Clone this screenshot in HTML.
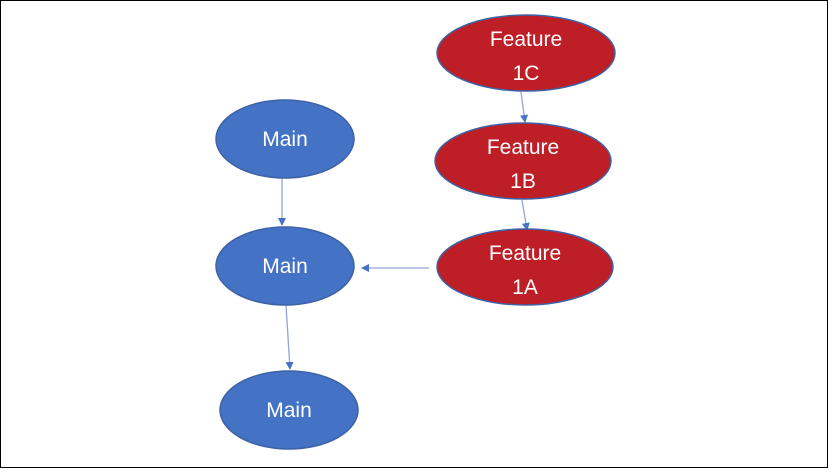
<!DOCTYPE html>
<html><head><style>
body{margin:0;width:828px;height:468px;overflow:hidden;background:#fff}
</style></head><body>
<svg width="828" height="468" xmlns="http://www.w3.org/2000/svg" font-family="Liberation Sans, sans-serif">
<rect x="0.5" y="0.5" width="827" height="467" fill="#fff" stroke="#000" stroke-width="1"/>
<defs><marker id="a" markerWidth="8" markerHeight="8" refX="7" refY="4" orient="auto" markerUnits="userSpaceOnUse"><path d="M0,0 L8,4 L0,8 Z" fill="#4472c4"/></marker></defs>
<g stroke="#8fa6d4" stroke-width="1.3" fill="none" marker-end="url(#a)">
<line x1="521" y1="92" x2="525" y2="122"/>
<line x1="522" y1="200" x2="527" y2="230"/>
<line x1="429" y1="268" x2="362" y2="268"/>
<line x1="282" y1="178" x2="282" y2="225"/>
<line x1="286" y1="305" x2="290" y2="369"/>
</g>
<g fill="#4472c4" stroke="#3f62a6" stroke-width="1.5">
<ellipse cx="285" cy="139" rx="69" ry="39"/>
<ellipse cx="285" cy="266" rx="69" ry="39"/>
<ellipse cx="289" cy="410" rx="69" ry="39"/>
</g>
<g fill="#be1e26" stroke="#3f62a6" stroke-width="1.5">
<ellipse cx="526" cy="53" rx="89" ry="38"/>
<ellipse cx="523" cy="161" rx="88" ry="38"/>
<ellipse cx="525" cy="267" rx="88" ry="38"/>
</g>
<g fill="#fff" font-size="21" text-anchor="middle">
<text x="285" y="146">Main</text>
<text x="285" y="273">Main</text>
<text x="289" y="417">Main</text>
<text x="526" y="46">Feature</text><text x="526" y="80">1C</text>
<text x="523" y="154">Feature</text><text x="523" y="188">1B</text>
<text x="525" y="260">Feature</text><text x="525" y="294">1A</text>
</g>
</svg>
</body></html>
